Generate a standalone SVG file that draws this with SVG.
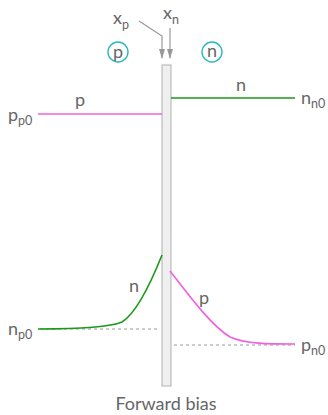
<svg xmlns="http://www.w3.org/2000/svg" width="328" height="415" viewBox="0 0 328 415">
<defs>
<style>
text{font-family:Lato,"Open Sans",sans-serif;fill:#666;font-size:18px}
.sub{font-size:12.5px}
.pink{fill:none;stroke:#f060e0;stroke-width:1.6}
.green{fill:none;stroke:#1a9a1a;stroke-width:1.6}
.dash{fill:none;stroke:#999;stroke-width:1.2;stroke-dasharray:3,3}
.arr{fill:none;stroke:#999;stroke-width:1.2;marker-end:url(#ah)}
.circ{fill:#fff;stroke:#2ab8c0;stroke-width:1.4}
</style>
<marker id="ah" markerWidth="10" markerHeight="8" refX="9" refY="3" orient="auto" markerUnits="userSpaceOnUse">
<path d="M0,0 L10,3 L0,6 z" fill="#999"/>
</marker>
</defs>
<g id="junction">
<rect x="162" y="65" width="9" height="321" fill="#efefef" stroke="#b0b0b0" stroke-width="1"/>
</g>
<g id="region-p"><circle class="circ" cx="118" cy="52" r="10"/><text x="118" y="58" text-anchor="middle">p</text></g>
<g id="region-n"><circle class="circ" cx="212" cy="52" r="10"/><text x="212" y="57" text-anchor="middle">n</text></g>
<g id="label-xp"><text x="113" y="24">x<tspan class="sub" dy="5">p</tspan></text></g>
<g id="label-xn"><text x="163" y="19">x<tspan class="sub" dy="5">n</tspan></text></g>
<g id="connectors">
<path class="arr" d="M139,21 L162,36 L162,58"/>
<path class="arr" d="M170,28 L170,58"/>
<line class="pink" x1="38" y1="114" x2="162" y2="114"/>
<line class="green" x1="171" y1="98" x2="295" y2="98"/>
<line class="dash" x1="40" y1="329" x2="160" y2="329"/>
<line class="dash" x1="174" y1="345" x2="295" y2="345"/>
<path class="green" d="M38,329 C80,329 110,327 122,322 C135,314 150,285 162,255"/>
<path class="pink" d="M170,271 C185,290 210,325 230,337 C245,344 270,344 295,344"/>
</g>
<g id="labels">
<text x="8" y="121">p<tspan class="sub" dy="4">p0</tspan></text>
<text x="75" y="106">p</text>
<text x="236" y="91">n</text>
<text x="301" y="104">n<tspan class="sub" dy="4">n0</tspan></text>
<text x="8" y="335">n<tspan class="sub" dy="4">p0</tspan></text>
<text x="129" y="292">n</text>
<text x="199" y="304">p</text>
<text x="301" y="351">p<tspan class="sub" dy="4">n0</tspan></text>
<text x="166" y="410" text-anchor="middle">Forward bias</text>
</g>
</svg>
